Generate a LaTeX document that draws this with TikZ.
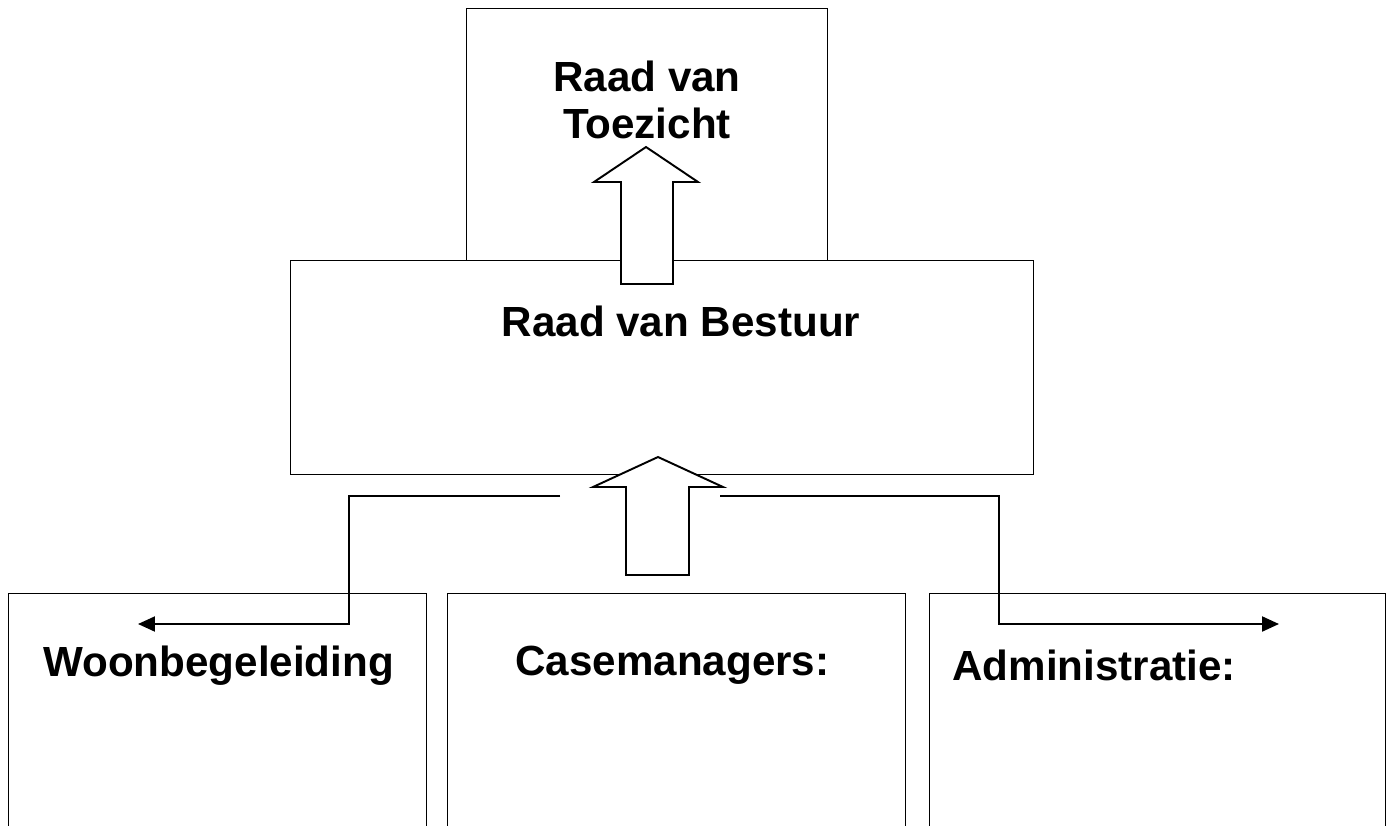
\documentclass[tikz,border=0pt]{standalone}
\usepackage{fontspec}
\setmainfont{Liberation Sans}
\usetikzlibrary{arrows.meta, positioning}

\begin{document}
\begin{tikzpicture}[x=0.02cm, y=-0.02cm,
    box/.style = {shape=rectangle, draw, line width=0.7pt, fill=white,
    inner sep=0pt, anchor=north west},
    lbl/.style = {font=\fontsize{24}{26.2}\selectfont\bfseries,
    inner sep=0pt, align=center},
    blockarrow/.style = {draw, fill=white, line width=1.1pt, line join=miter},
    line/.style = {draw, line width=1.2pt, -{Triangle[length=3.4mm, width=3mm]}}]

  \useasboundingbox (0,0) rectangle (1386,825);

  % boards
  \node[box, minimum width=7.22cm, minimum height=5.04cm] (toezicht) at (466,8) {};
  \node[box, minimum width=14.86cm, minimum height=4.28cm] (bestuur) at (290,260) {};

  \node[lbl, anchor=base] (toezichttxt) at (647,138) {Raad van\\Toezicht};
  \node[lbl, anchor=base] (bestuurtxt) at (681,336) {Raad van Bestuur};

  \draw[blockarrow] (621,284) -- (621,182) -- (594,182) -- (646,147)
    -- (698,182) -- (673,182) -- (673,284) -- cycle;

  % departments
  \node[box, minimum width=8.36cm, minimum height=5.2cm] (woon) at (8,593) {};
  \node[box, minimum width=9.16cm, minimum height=5.2cm] (case) at (447,593) {};
  \node[box, minimum width=9.12cm, minimum height=5.2cm] (admin) at (929,593) {};

  \node[lbl, anchor=base west] (woontxt) at (43,676) {Woonbegeleiding};
  \node[lbl, anchor=base west] (casetxt) at (515,675) {Casemanagers:};
  \node[lbl, anchor=base west] (admintxt) at (952,680) {Administratie:};

  \draw[blockarrow] (626,575) -- (626,487) -- (593,487) -- (658,457)
    -- (723,487) -- (689,487) -- (689,575) -- cycle;

  \coordinate (lstart) at (560,496);
  \coordinate (lend) at (138,624);
  \coordinate (rstart) at (720,496);
  \coordinate (rend) at (1279,624);

  \draw[line] (lstart) -- ++(-211,0) |- (lend);
  \draw[line] (rstart) -- ++(279,0) |- (rend);

\end{tikzpicture}
\end{document}
